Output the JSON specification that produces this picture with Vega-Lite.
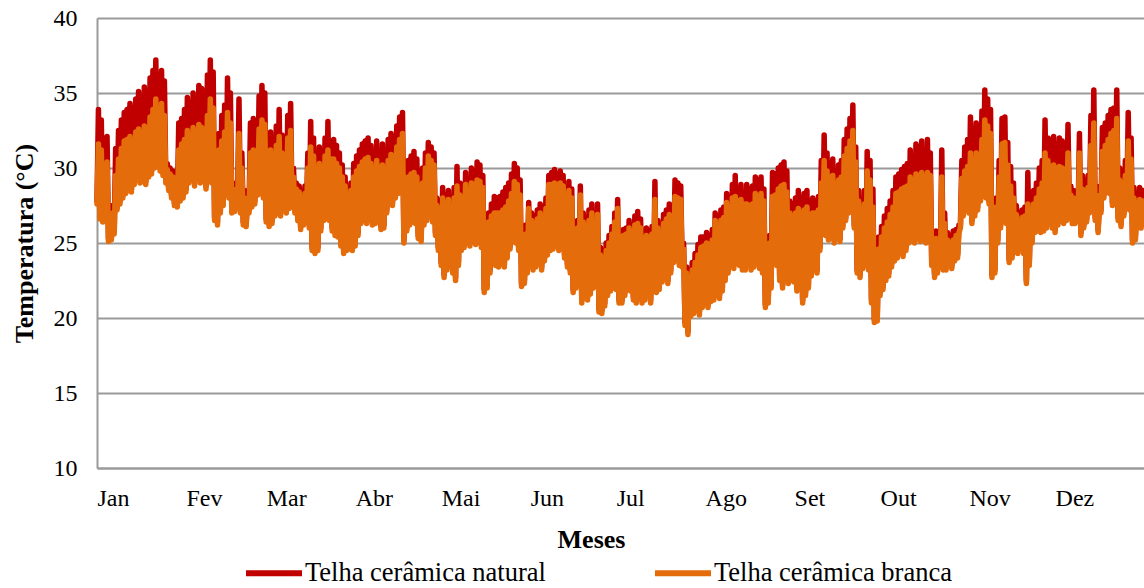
{
  "$schema": "https://vega.github.io/schema/vega-lite/v6.json",
  "autosize": "none",
  "width": 1047,
  "height": 450,
  "padding": {"left": 97, "top": 18, "right": 0, "bottom": 120},
  "background": "white",
  "config": {
    "view": {"stroke": null},
    "font": "Liberation Serif",
    "axis": {"labelFont": "Liberation Serif", "titleFont": "Liberation Serif", "labelColor": "black", "titleColor": "black"}
  },
  "data": {"values": [
{"t":0,"n":27.8,"b":27.6},{"t":0.5,"n":33.9,"b":31.6},
{"t":1,"n":26.8,"b":26.6},{"t":1.5,"n":33.2,"b":31.2},
{"t":2,"n":26.6,"b":26.4},{"t":2.5,"n":28.2,"b":27.6},
{"t":3,"n":26.7,"b":26.5},{"t":3.5,"n":32.1,"b":30.4},
{"t":4,"n":25.3,"b":25.1},{"t":4.5,"n":27.0,"b":26.6},
{"t":5,"n":25.4,"b":25.2},{"t":5.5,"n":27.5,"b":27.0},
{"t":6,"n":25.8,"b":25.6},{"t":6.5,"n":31.3,"b":29.5},
{"t":7,"n":27.4,"b":27.2},{"t":7.5,"n":32.5,"b":30.6},
{"t":8,"n":27.8,"b":27.6},{"t":8.5,"n":33.2,"b":31.3},
{"t":9,"n":28.2,"b":28.0},{"t":9.5,"n":33.7,"b":31.8},
{"t":10,"n":28.5,"b":28.3},{"t":10.5,"n":33.9,"b":31.9},
{"t":11,"n":28.7,"b":28.5},{"t":11.5,"n":34.3,"b":32.1},
{"t":12,"n":28.6,"b":28.4},{"t":12.5,"n":34.0,"b":31.8},
{"t":13,"n":29.1,"b":28.9},{"t":13.5,"n":34.6,"b":32.4},
{"t":14,"n":29.4,"b":29.2},{"t":14.5,"n":35.1,"b":32.6},
{"t":15,"n":29.2,"b":29.0},{"t":15.5,"n":34.8,"b":32.4},
{"t":16,"n":29.3,"b":29.1},{"t":16.5,"n":35.4,"b":32.8},
{"t":17,"n":29.1,"b":28.9},{"t":17.5,"n":35.0,"b":32.6},
{"t":18,"n":29.6,"b":29.4},{"t":18.5,"n":36.0,"b":33.4},
{"t":19,"n":29.8,"b":29.6},{"t":19.5,"n":36.5,"b":33.9},
{"t":20,"n":30.2,"b":30.0},{"t":20.5,"n":37.2,"b":34.6},
{"t":21,"n":30.3,"b":30.1},{"t":21.5,"n":36.0,"b":33.6},
{"t":22,"n":30.0,"b":29.8},{"t":22.5,"n":36.5,"b":34.3},
{"t":23,"n":29.7,"b":29.5},{"t":23.5,"n":35.8,"b":33.5},
{"t":24,"n":29.2,"b":29.0},{"t":24.5,"n":30.3,"b":29.9},
{"t":25,"n":28.7,"b":28.5},{"t":25.5,"n":30.0,"b":29.6},
{"t":26,"n":28.2,"b":28.0},{"t":26.5,"n":29.8,"b":29.4},
{"t":27,"n":27.7,"b":27.5},{"t":27.5,"n":29.5,"b":29.0},
{"t":28,"n":27.6,"b":27.4},{"t":28.5,"n":33.0,"b":31.2},
{"t":29,"n":28.0,"b":27.8},{"t":29.5,"n":33.3,"b":31.6},
{"t":30,"n":28.2,"b":28.0},{"t":30.5,"n":33.9,"b":31.9},
{"t":31,"n":28.6,"b":28.4},{"t":31.5,"n":34.7,"b":32.5},
{"t":32,"n":29.2,"b":29.0},{"t":32.5,"n":34.3,"b":32.0},
{"t":33,"n":29.4,"b":29.2},{"t":33.5,"n":35.0,"b":32.7},
{"t":34,"n":29.0,"b":28.8},{"t":34.5,"n":34.6,"b":32.4},
{"t":35,"n":29.5,"b":29.3},{"t":35.5,"n":35.5,"b":32.9},
{"t":36,"n":29.2,"b":29.0},{"t":36.5,"n":35.3,"b":32.7},
{"t":37,"n":29.4,"b":29.2},{"t":37.5,"n":34.8,"b":32.5},
{"t":38,"n":28.8,"b":28.6},{"t":38.5,"n":36.2,"b":33.5},
{"t":39,"n":29.7,"b":29.5},{"t":39.5,"n":37.2,"b":34.6},
{"t":40,"n":29.2,"b":29.0},{"t":40.5,"n":36.4,"b":34.0},
{"t":41,"n":26.7,"b":26.5},{"t":41.5,"n":29.5,"b":29.0},
{"t":42,"n":26.4,"b":26.2},{"t":42.5,"n":32.3,"b":31.2},
{"t":43,"n":27.2,"b":27.0},{"t":43.5,"n":33.5,"b":31.8},
{"t":44,"n":27.7,"b":27.5},{"t":44.5,"n":34.2,"b":32.4},
{"t":45,"n":28.5,"b":28.3},{"t":45.5,"n":36.0,"b":33.7},
{"t":46,"n":28.2,"b":28.0},{"t":46.5,"n":35.0,"b":33.0},
{"t":47,"n":27.2,"b":27.0},{"t":47.5,"n":28.5,"b":28.0},
{"t":48,"n":27.3,"b":27.1},{"t":48.5,"n":29.0,"b":28.6},
{"t":49,"n":27.7,"b":27.5},{"t":49.5,"n":34.6,"b":32.3},
{"t":50,"n":27.2,"b":27.0},{"t":50.5,"n":31.0,"b":30.0},
{"t":51,"n":26.4,"b":26.2},{"t":51.5,"n":28.5,"b":28.0},
{"t":52,"n":26.3,"b":26.1},{"t":52.5,"n":28.3,"b":27.9},
{"t":53,"n":27.2,"b":27.0},{"t":53.5,"n":33.0,"b":31.0},
{"t":54,"n":27.6,"b":27.4},{"t":54.5,"n":33.3,"b":31.2},
{"t":55,"n":27.8,"b":27.6},{"t":55.5,"n":32.8,"b":31.0},
{"t":56,"n":28.4,"b":28.2},{"t":56.5,"n":34.8,"b":32.6},
{"t":57,"n":28.5,"b":28.3},{"t":57.5,"n":35.5,"b":33.2},
{"t":58,"n":28.2,"b":28.0},{"t":58.5,"n":35.0,"b":32.9},
{"t":59,"n":26.6,"b":26.4},{"t":59.5,"n":30.5,"b":29.8},
{"t":60,"n":26.3,"b":26.1},{"t":60.5,"n":32.4,"b":31.2},
{"t":61,"n":26.5,"b":26.3},{"t":61.5,"n":31.5,"b":30.5},
{"t":62,"n":27.0,"b":26.8},{"t":62.5,"n":32.8,"b":31.5},
{"t":63,"n":27.2,"b":27.0},{"t":63.5,"n":33.9,"b":32.1},
{"t":64,"n":27.0,"b":26.8},{"t":64.5,"n":32.2,"b":31.0},
{"t":65,"n":27.4,"b":27.2},{"t":65.5,"n":30.5,"b":29.8},
{"t":66,"n":27.2,"b":27.0},{"t":66.5,"n":33.5,"b":32.0},
{"t":67,"n":27.5,"b":27.3},{"t":67.5,"n":34.3,"b":32.5},
{"t":68,"n":27.6,"b":27.4},{"t":68.5,"n":30.0,"b":29.4},
{"t":69,"n":27.2,"b":27.0},{"t":69.5,"n":29.0,"b":28.6},
{"t":70,"n":26.7,"b":26.5},{"t":70.5,"n":28.8,"b":28.4},
{"t":71,"n":26.1,"b":25.9},{"t":71.5,"n":28.5,"b":28.0},
{"t":72,"n":26.4,"b":26.2},{"t":72.5,"n":28.8,"b":28.3},
{"t":73,"n":27.0,"b":26.8},{"t":73.5,"n":31.0,"b":30.0},
{"t":74,"n":26.2,"b":26.0},{"t":74.5,"n":33.1,"b":31.4},
{"t":75,"n":24.7,"b":24.5},{"t":75.5,"n":32.0,"b":30.8},
{"t":76,"n":24.5,"b":24.3},{"t":76.5,"n":29.0,"b":28.4},
{"t":77,"n":24.7,"b":24.5},{"t":77.5,"n":31.4,"b":30.3},
{"t":78,"n":26.0,"b":25.8},{"t":78.5,"n":30.5,"b":29.8},
{"t":79,"n":26.7,"b":26.5},{"t":79.5,"n":32.0,"b":30.8},
{"t":80,"n":26.8,"b":26.6},{"t":80.5,"n":33.1,"b":31.2},
{"t":81,"n":26.7,"b":26.5},{"t":81.5,"n":31.8,"b":30.6},
{"t":82,"n":26.0,"b":25.8},{"t":82.5,"n":31.9,"b":30.6},
{"t":83,"n":25.7,"b":25.5},{"t":83.5,"n":31.5,"b":30.3},
{"t":84,"n":25.6,"b":25.4},{"t":84.5,"n":31.0,"b":30.0},
{"t":85,"n":25.0,"b":24.8},{"t":85.5,"n":30.2,"b":29.4},
{"t":86,"n":24.5,"b":24.3},{"t":86.5,"n":29.4,"b":28.8},
{"t":87,"n":24.7,"b":24.5},{"t":87.5,"n":28.5,"b":28.0},
{"t":88,"n":24.8,"b":24.6},{"t":88.5,"n":29.0,"b":28.5},
{"t":89,"n":24.7,"b":24.5},{"t":89.5,"n":30.3,"b":29.4},
{"t":90,"n":25.0,"b":24.8},{"t":90.5,"n":30.8,"b":29.8},
{"t":91,"n":25.7,"b":25.5},{"t":91.5,"n":31.2,"b":30.1},
{"t":92,"n":26.5,"b":26.3},{"t":92.5,"n":31.6,"b":30.4},
{"t":93,"n":26.7,"b":26.5},{"t":93.5,"n":31.8,"b":30.6},
{"t":94,"n":26.5,"b":26.3},{"t":94.5,"n":32.0,"b":30.7},
{"t":95,"n":26.8,"b":26.6},{"t":95.5,"n":31.5,"b":30.3},
{"t":96,"n":26.4,"b":26.2},{"t":96.5,"n":30.8,"b":29.8},
{"t":97,"n":26.5,"b":26.3},{"t":97.5,"n":31.8,"b":30.5},
{"t":98,"n":26.7,"b":26.5},{"t":98.5,"n":31.0,"b":30.0},
{"t":99,"n":26.1,"b":25.9},{"t":99.5,"n":31.6,"b":30.2},
{"t":100,"n":26.2,"b":26.0},{"t":100.5,"n":30.5,"b":29.6},
{"t":101,"n":27.2,"b":27.0},{"t":101.5,"n":31.9,"b":30.5},
{"t":102,"n":27.8,"b":27.6},{"t":102.5,"n":32.3,"b":30.9},
{"t":103,"n":27.7,"b":27.5},{"t":103.5,"n":32.0,"b":30.8},
{"t":104,"n":28.2,"b":28.0},{"t":104.5,"n":32.8,"b":31.4},
{"t":105,"n":28.5,"b":28.3},{"t":105.5,"n":33.4,"b":31.9},
{"t":106,"n":28.7,"b":28.5},{"t":106.5,"n":33.7,"b":32.3},
{"t":107,"n":25.2,"b":25.0},{"t":107.5,"n":28.5,"b":28.0},
{"t":108,"n":26.0,"b":25.8},{"t":108.5,"n":30.5,"b":29.4},
{"t":109,"n":26.4,"b":26.2},{"t":109.5,"n":30.8,"b":29.6},
{"t":110,"n":26.6,"b":26.4},{"t":110.5,"n":31.1,"b":29.7},
{"t":111,"n":26.5,"b":26.3},{"t":111.5,"n":30.6,"b":29.4},
{"t":112,"n":25.5,"b":25.3},{"t":112.5,"n":29.5,"b":28.8},
{"t":113,"n":25.3,"b":25.1},{"t":113.5,"n":30.0,"b":29.0},
{"t":114,"n":26.4,"b":26.2},{"t":114.5,"n":31.0,"b":30.0},
{"t":115,"n":26.7,"b":26.5},{"t":115.5,"n":31.7,"b":30.8},
{"t":116,"n":27.0,"b":26.8},{"t":116.5,"n":31.4,"b":30.5},
{"t":117,"n":26.6,"b":26.4},{"t":117.5,"n":31.0,"b":30.2},
{"t":118,"n":25.7,"b":25.5},{"t":118.5,"n":28.0,"b":27.5},
{"t":119,"n":24.7,"b":24.5},{"t":119.5,"n":26.8,"b":26.3},
{"t":120,"n":23.7,"b":23.5},{"t":120.5,"n":28.7,"b":28.0},
{"t":121,"n":22.9,"b":22.7},{"t":121.5,"n":28.2,"b":27.6},
{"t":122,"n":23.4,"b":23.2},{"t":122.5,"n":28.5,"b":27.9},
{"t":123,"n":24.0,"b":23.8},{"t":123.5,"n":27.8,"b":27.2},
{"t":124,"n":23.2,"b":23.0},{"t":124.5,"n":28.7,"b":28.0},
{"t":125,"n":22.7,"b":22.5},{"t":125.5,"n":30.1,"b":28.8},
{"t":126,"n":23.7,"b":23.5},{"t":126.5,"n":29.0,"b":28.2},
{"t":127,"n":24.7,"b":24.5},{"t":127.5,"n":28.9,"b":28.0},
{"t":128,"n":24.9,"b":24.7},{"t":128.5,"n":29.7,"b":28.9},
{"t":129,"n":25.2,"b":25.0},{"t":129.5,"n":29.2,"b":28.5},
{"t":130,"n":25.0,"b":24.8},{"t":130.5,"n":30.0,"b":29.0},
{"t":131,"n":25.4,"b":25.2},{"t":131.5,"n":29.8,"b":28.9},
{"t":132,"n":25.1,"b":24.9},{"t":132.5,"n":30.4,"b":29.2},
{"t":133,"n":25.5,"b":25.3},{"t":133.5,"n":30.2,"b":29.1},
{"t":134,"n":24.9,"b":24.7},{"t":134.5,"n":29.5,"b":28.7},
{"t":135,"n":21.9,"b":21.7},{"t":135.5,"n":26.8,"b":26.1},
{"t":136,"n":22.2,"b":22.0},{"t":136.5,"n":27.0,"b":26.4},
{"t":137,"n":23.2,"b":23.0},{"t":137.5,"n":27.6,"b":26.8},
{"t":138,"n":23.9,"b":23.7},{"t":138.5,"n":28.1,"b":27.0},
{"t":139,"n":23.7,"b":23.5},{"t":139.5,"n":28.0,"b":27.0},
{"t":140,"n":23.6,"b":23.4},{"t":140.5,"n":28.1,"b":27.0},
{"t":141,"n":23.8,"b":23.6},{"t":141.5,"n":28.4,"b":27.2},
{"t":142,"n":23.6,"b":23.4},{"t":142.5,"n":28.7,"b":27.4},
{"t":143,"n":24.2,"b":24.0},{"t":143.5,"n":29.0,"b":27.8},
{"t":144,"n":24.8,"b":24.6},{"t":144.5,"n":29.6,"b":28.3},
{"t":145,"n":25.4,"b":25.2},{"t":145.5,"n":30.3,"b":29.1},
{"t":146,"n":25.2,"b":25.0},{"t":146.5,"n":30.0,"b":28.9},
{"t":147,"n":24.7,"b":24.5},{"t":147.5,"n":29.2,"b":28.2},
{"t":148,"n":22.3,"b":22.1},{"t":148.5,"n":25.7,"b":25.2},
{"t":149,"n":22.5,"b":22.3},{"t":149.5,"n":26.2,"b":25.6},
{"t":150,"n":23.2,"b":23.0},{"t":150.5,"n":27.7,"b":27.3},
{"t":151,"n":23.7,"b":23.5},{"t":151.5,"n":27.0,"b":26.5},
{"t":152,"n":23.4,"b":23.2},{"t":152.5,"n":26.8,"b":26.3},
{"t":153,"n":23.6,"b":23.4},{"t":153.5,"n":27.2,"b":26.6},
{"t":154,"n":23.8,"b":23.6},{"t":154.5,"n":27.6,"b":27.0},
{"t":155,"n":23.4,"b":23.2},{"t":155.5,"n":27.0,"b":26.5},
{"t":156,"n":24.0,"b":23.8},{"t":156.5,"n":28.0,"b":27.3},
{"t":157,"n":24.4,"b":24.2},{"t":157.5,"n":29.5,"b":28.9},
{"t":158,"n":24.7,"b":24.5},{"t":158.5,"n":29.7,"b":28.9},
{"t":159,"n":24.8,"b":24.6},{"t":159.5,"n":29.9,"b":29.0},
{"t":160,"n":25.0,"b":24.8},{"t":160.5,"n":29.6,"b":28.9},
{"t":161,"n":24.7,"b":24.5},{"t":161.5,"n":29.8,"b":29.0},
{"t":162,"n":24.8,"b":24.6},{"t":162.5,"n":29.5,"b":28.8},
{"t":163,"n":24.2,"b":24.0},{"t":163.5,"n":28.5,"b":28.0},
{"t":164,"n":23.6,"b":23.4},{"t":164.5,"n":29.1,"b":28.5},
{"t":165,"n":23.2,"b":23.0},{"t":165.5,"n":28.6,"b":28.0},
{"t":166,"n":21.9,"b":21.7},{"t":166.5,"n":26.0,"b":25.5},
{"t":167,"n":22.2,"b":22.0},{"t":167.5,"n":26.5,"b":26.0},
{"t":168,"n":22.7,"b":22.5},{"t":168.5,"n":28.8,"b":28.2},
{"t":169,"n":21.2,"b":21.0},{"t":169.5,"n":27.0,"b":26.4},
{"t":170,"n":21.7,"b":21.5},{"t":170.5,"n":26.7,"b":26.1},
{"t":171,"n":21.4,"b":21.2},{"t":171.5,"n":27.2,"b":26.5},
{"t":172,"n":21.8,"b":21.6},{"t":172.5,"n":27.6,"b":27.0},
{"t":173,"n":22.2,"b":22.0},{"t":173.5,"n":27.0,"b":26.4},
{"t":174,"n":22.7,"b":22.5},{"t":174.5,"n":27.6,"b":26.9},
{"t":175,"n":20.6,"b":20.4},{"t":175.5,"n":24.7,"b":24.2},
{"t":176,"n":20.5,"b":20.3},{"t":176.5,"n":24.5,"b":24.0},
{"t":177,"n":21.0,"b":20.8},{"t":177.5,"n":25.0,"b":24.5},
{"t":178,"n":21.7,"b":21.5},{"t":178.5,"n":25.5,"b":25.0},
{"t":179,"n":22.0,"b":21.8},{"t":179.5,"n":26.1,"b":25.6},
{"t":180,"n":22.2,"b":22.0},{"t":180.5,"n":27.0,"b":26.4},
{"t":181,"n":22.1,"b":21.9},{"t":181.5,"n":27.9,"b":27.3},
{"t":182,"n":21.2,"b":21.0},{"t":182.5,"n":25.5,"b":25.0},
{"t":183,"n":21.2,"b":21.0},{"t":183.5,"n":25.9,"b":25.5},
{"t":184,"n":21.7,"b":21.5},{"t":184.5,"n":26.0,"b":25.6},
{"t":185,"n":22.5,"b":22.3},{"t":185.5,"n":26.5,"b":26.0},
{"t":186,"n":22.0,"b":21.8},{"t":186.5,"n":26.2,"b":25.7},
{"t":187,"n":21.4,"b":21.2},{"t":187.5,"n":26.8,"b":26.2},
{"t":188,"n":21.2,"b":21.0},{"t":188.5,"n":27.1,"b":26.3},
{"t":189,"n":21.8,"b":21.6},{"t":189.5,"n":26.6,"b":26.0},
{"t":190,"n":21.2,"b":21.0},{"t":190.5,"n":25.7,"b":25.3},
{"t":191,"n":21.4,"b":21.2},{"t":191.5,"n":26.0,"b":25.5},
{"t":192,"n":21.7,"b":21.5},{"t":192.5,"n":25.8,"b":25.4},
{"t":193,"n":21.2,"b":21.0},{"t":193.5,"n":26.1,"b":25.6},
{"t":194,"n":22.0,"b":21.8},{"t":194.5,"n":29.1,"b":27.9},
{"t":195,"n":21.9,"b":21.7},{"t":195.5,"n":26.5,"b":26.0},
{"t":196,"n":22.1,"b":21.9},{"t":196.5,"n":26.0,"b":25.5},
{"t":197,"n":22.6,"b":22.4},{"t":197.5,"n":26.9,"b":26.3},
{"t":198,"n":22.8,"b":22.6},{"t":198.5,"n":27.2,"b":26.6},
{"t":199,"n":22.5,"b":22.3},{"t":199.5,"n":27.6,"b":26.9},
{"t":200,"n":23.2,"b":23.0},{"t":200.5,"n":27.4,"b":26.8},
{"t":201,"n":23.9,"b":23.7},{"t":201.5,"n":29.2,"b":28.1},
{"t":202,"n":24.1,"b":23.9},{"t":202.5,"n":29.0,"b":28.0},
{"t":203,"n":23.7,"b":23.5},{"t":203.5,"n":28.8,"b":27.9},
{"t":204,"n":23.6,"b":23.4},{"t":204.5,"n":25.0,"b":24.6},
{"t":205,"n":19.7,"b":19.5},{"t":205.5,"n":23.4,"b":23.0},
{"t":206,"n":19.1,"b":18.9},{"t":206.5,"n":22.5,"b":22.0},
{"t":207,"n":20.3,"b":20.1},{"t":207.5,"n":23.7,"b":23.2},
{"t":208,"n":20.5,"b":20.3},{"t":208.5,"n":24.3,"b":23.7},
{"t":209,"n":20.7,"b":20.5},{"t":209.5,"n":24.9,"b":24.2},
{"t":210,"n":20.4,"b":20.2},{"t":210.5,"n":25.4,"b":24.7},
{"t":211,"n":20.9,"b":20.7},{"t":211.5,"n":25.4,"b":24.8},
{"t":212,"n":21.1,"b":20.9},{"t":212.5,"n":25.7,"b":25.0},
{"t":213,"n":20.9,"b":20.7},{"t":213.5,"n":25.5,"b":24.9},
{"t":214,"n":21.3,"b":21.1},{"t":214.5,"n":25.9,"b":25.2},
{"t":215,"n":21.4,"b":21.2},{"t":215.5,"n":27.0,"b":26.5},
{"t":216,"n":21.7,"b":21.5},{"t":216.5,"n":26.8,"b":26.2},
{"t":217,"n":21.5,"b":21.3},{"t":217.5,"n":27.2,"b":26.5},
{"t":218,"n":22.0,"b":21.8},{"t":218.5,"n":27.4,"b":26.7},
{"t":219,"n":22.7,"b":22.5},{"t":219.5,"n":28.3,"b":27.7},
{"t":220,"n":23.2,"b":23.0},{"t":220.5,"n":28.0,"b":27.4},
{"t":221,"n":23.7,"b":23.5},{"t":221.5,"n":28.9,"b":28.0},
{"t":222,"n":23.5,"b":23.3},{"t":222.5,"n":29.5,"b":28.1},
{"t":223,"n":23.9,"b":23.7},{"t":223.5,"n":28.6,"b":27.8},
{"t":224,"n":23.7,"b":23.5},{"t":224.5,"n":28.9,"b":27.9},
{"t":225,"n":23.4,"b":23.2},{"t":225.5,"n":28.3,"b":27.6},
{"t":226,"n":23.4,"b":23.2},{"t":226.5,"n":28.9,"b":27.6},
{"t":227,"n":23.7,"b":23.5},{"t":227.5,"n":28.6,"b":27.5},
{"t":228,"n":23.4,"b":23.2},{"t":228.5,"n":28.8,"b":27.6},
{"t":229,"n":23.6,"b":23.4},{"t":229.5,"n":29.4,"b":28.3},
{"t":230,"n":23.8,"b":23.6},{"t":230.5,"n":29.2,"b":28.1},
{"t":231,"n":23.5,"b":23.3},{"t":231.5,"n":29.4,"b":28.3},
{"t":232,"n":23.2,"b":23.0},{"t":232.5,"n":28.6,"b":27.8},
{"t":233,"n":20.9,"b":20.7},{"t":233.5,"n":24.5,"b":24.0},
{"t":234,"n":21.2,"b":21.0},{"t":234.5,"n":25.5,"b":25.0},
{"t":235,"n":22.2,"b":22.0},{"t":235.5,"n":29.7,"b":28.1},
{"t":236,"n":24.3,"b":24.1},{"t":236.5,"n":29.6,"b":28.2},
{"t":237,"n":23.7,"b":23.5},{"t":237.5,"n":30.0,"b":28.6},
{"t":238,"n":22.7,"b":22.5},{"t":238.5,"n":30.2,"b":28.8},
{"t":239,"n":22.2,"b":22.0},{"t":239.5,"n":30.4,"b":28.9},
{"t":240,"n":23.2,"b":23.0},{"t":240.5,"n":29.8,"b":28.4},
{"t":241,"n":22.5,"b":22.3},{"t":241.5,"n":27.8,"b":27.0},
{"t":242,"n":22.7,"b":22.5},{"t":242.5,"n":27.6,"b":26.8},
{"t":243,"n":22.6,"b":22.4},{"t":243.5,"n":28.0,"b":27.0},
{"t":244,"n":22.0,"b":21.8},{"t":244.5,"n":28.5,"b":27.3},
{"t":245,"n":22.8,"b":22.6},{"t":245.5,"n":28.0,"b":27.0},
{"t":246,"n":21.2,"b":21.0},{"t":246.5,"n":28.3,"b":27.2},
{"t":247,"n":21.7,"b":21.5},{"t":247.5,"n":28.5,"b":27.4},
{"t":248,"n":22.2,"b":22.0},{"t":248.5,"n":27.8,"b":26.9},
{"t":249,"n":23.0,"b":22.8},{"t":249.5,"n":28.0,"b":27.0},
{"t":250,"n":23.4,"b":23.2},{"t":250.5,"n":27.8,"b":27.0},
{"t":251,"n":23.2,"b":23.0},{"t":251.5,"n":28.1,"b":27.2},
{"t":252,"n":24.7,"b":24.5},{"t":252.5,"n":30.5,"b":29.0},
{"t":253,"n":26.1,"b":25.9},{"t":253.5,"n":32.2,"b":30.5},
{"t":254,"n":25.7,"b":25.5},{"t":254.5,"n":31.0,"b":29.8},
{"t":255,"n":25.4,"b":25.2},{"t":255.5,"n":30.3,"b":29.4},
{"t":256,"n":25.6,"b":25.4},{"t":256.5,"n":30.6,"b":29.5},
{"t":257,"n":25.2,"b":25.0},{"t":257.5,"n":29.7,"b":28.9},
{"t":258,"n":25.5,"b":25.3},{"t":258.5,"n":30.2,"b":29.2},
{"t":259,"n":25.3,"b":25.1},{"t":259.5,"n":30.5,"b":29.4},
{"t":260,"n":26.2,"b":26.0},{"t":260.5,"n":31.9,"b":30.8},
{"t":261,"n":26.7,"b":26.5},{"t":261.5,"n":32.6,"b":31.3},
{"t":262,"n":27.2,"b":27.0},{"t":262.5,"n":33.3,"b":31.8},
{"t":263,"n":27.4,"b":27.2},{"t":263.5,"n":34.2,"b":32.5},
{"t":264,"n":26.2,"b":26.0},{"t":264.5,"n":31.4,"b":30.4},
{"t":265,"n":23.2,"b":23.0},{"t":265.5,"n":28.5,"b":27.8},
{"t":266,"n":22.9,"b":22.7},{"t":266.5,"n":27.0,"b":26.5},
{"t":267,"n":23.5,"b":23.3},{"t":267.5,"n":28.5,"b":27.6},
{"t":268,"n":23.7,"b":23.5},{"t":268.5,"n":31.1,"b":29.8},
{"t":269,"n":23.4,"b":23.2},{"t":269.5,"n":30.5,"b":29.2},
{"t":270,"n":21.2,"b":21.0},{"t":270.5,"n":28.6,"b":27.4},
{"t":271,"n":19.9,"b":19.7},{"t":271.5,"n":24.5,"b":24.0},
{"t":272,"n":20.0,"b":19.8},{"t":272.5,"n":25.4,"b":24.6},
{"t":273,"n":21.7,"b":21.5},{"t":273.5,"n":26.1,"b":25.4},
{"t":274,"n":22.1,"b":21.9},{"t":274.5,"n":26.8,"b":26.0},
{"t":275,"n":22.7,"b":22.5},{"t":275.5,"n":27.3,"b":26.4},
{"t":276,"n":23.0,"b":22.8},{"t":276.5,"n":27.8,"b":26.9},
{"t":277,"n":23.6,"b":23.4},{"t":277.5,"n":28.5,"b":27.4},
{"t":278,"n":24.0,"b":23.8},{"t":278.5,"n":29.4,"b":28.3},
{"t":279,"n":24.2,"b":24.0},{"t":279.5,"n":29.6,"b":28.4},
{"t":280,"n":24.5,"b":24.3},{"t":280.5,"n":29.9,"b":28.6},
{"t":281,"n":24.3,"b":24.1},{"t":281.5,"n":30.1,"b":28.7},
{"t":282,"n":24.7,"b":24.5},{"t":282.5,"n":30.3,"b":28.8},
{"t":283,"n":25.2,"b":25.0},{"t":283.5,"n":31.2,"b":29.4},
{"t":284,"n":25.4,"b":25.2},{"t":284.5,"n":30.8,"b":29.2},
{"t":285,"n":25.2,"b":25.0},{"t":285.5,"n":31.6,"b":29.6},
{"t":286,"n":25.5,"b":25.3},{"t":286.5,"n":31.4,"b":29.5},
{"t":287,"n":25.3,"b":25.1},{"t":287.5,"n":31.8,"b":29.7},
{"t":288,"n":25.4,"b":25.2},{"t":288.5,"n":31.2,"b":29.4},
{"t":289,"n":25.2,"b":25.0},{"t":289.5,"n":31.9,"b":29.7},
{"t":290,"n":25.4,"b":25.2},{"t":290.5,"n":31.0,"b":29.5},
{"t":291,"n":23.7,"b":23.5},{"t":291.5,"n":25.4,"b":25.0},
{"t":292,"n":22.9,"b":22.7},{"t":292.5,"n":25.8,"b":25.3},
{"t":293,"n":23.2,"b":23.0},{"t":293.5,"n":25.5,"b":25.0},
{"t":294,"n":23.7,"b":23.5},{"t":294.5,"n":31.2,"b":29.4},
{"t":295,"n":23.4,"b":23.2},{"t":295.5,"n":27.0,"b":26.3},
{"t":296,"n":23.4,"b":23.2},{"t":296.5,"n":25.7,"b":25.2},
{"t":297,"n":23.7,"b":23.5},{"t":297.5,"n":25.4,"b":25.0},
{"t":298,"n":23.5,"b":23.3},{"t":298.5,"n":25.8,"b":25.2},
{"t":299,"n":24.0,"b":23.8},{"t":299.5,"n":25.9,"b":25.5},
{"t":300,"n":24.2,"b":24.0},{"t":300.5,"n":26.2,"b":25.7},
{"t":301,"n":26.2,"b":26.0},{"t":301.5,"n":30.5,"b":29.3},
{"t":302,"n":27.0,"b":26.8},{"t":302.5,"n":31.4,"b":29.8},
{"t":303,"n":27.4,"b":27.2},{"t":303.5,"n":31.9,"b":30.1},
{"t":304,"n":27.2,"b":27.0},{"t":304.5,"n":33.4,"b":31.0},
{"t":305,"n":26.5,"b":26.3},{"t":305.5,"n":32.6,"b":30.5},
{"t":306,"n":27.0,"b":26.8},{"t":306.5,"n":33.0,"b":31.0},
{"t":307,"n":27.4,"b":27.2},{"t":307.5,"n":32.5,"b":30.7},
{"t":308,"n":28.0,"b":27.8},{"t":308.5,"n":33.8,"b":31.9},
{"t":309,"n":28.3,"b":28.1},{"t":309.5,"n":35.2,"b":33.2},
{"t":310,"n":28.2,"b":28.0},{"t":310.5,"n":34.6,"b":32.8},
{"t":311,"n":27.8,"b":27.6},{"t":311.5,"n":33.9,"b":32.3},
{"t":312,"n":22.9,"b":22.7},{"t":312.5,"n":26.5,"b":26.0},
{"t":313,"n":23.2,"b":23.0},{"t":313.5,"n":28.0,"b":27.4},
{"t":314,"n":25.2,"b":25.0},{"t":314.5,"n":30.5,"b":29.4},
{"t":315,"n":26.2,"b":26.0},{"t":315.5,"n":33.3,"b":31.6},
{"t":316,"n":26.7,"b":26.5},{"t":316.5,"n":33.4,"b":31.7},
{"t":317,"n":26.5,"b":26.3},{"t":317.5,"n":31.7,"b":30.2},
{"t":318,"n":23.9,"b":23.7},{"t":318.5,"n":30.1,"b":28.8},
{"t":319,"n":24.2,"b":24.0},{"t":319.5,"n":29.0,"b":28.0},
{"t":320,"n":24.6,"b":24.4},{"t":320.5,"n":27.5,"b":26.9},
{"t":321,"n":24.5,"b":24.3},{"t":321.5,"n":27.0,"b":26.4},
{"t":322,"n":24.8,"b":24.6},{"t":322.5,"n":27.2,"b":26.7},
{"t":323,"n":24.5,"b":24.3},{"t":323.5,"n":27.4,"b":26.8},
{"t":324,"n":22.5,"b":22.3},{"t":324.5,"n":29.7,"b":27.6},
{"t":325,"n":23.7,"b":23.5},{"t":325.5,"n":27.5,"b":26.8},
{"t":326,"n":25.2,"b":25.0},{"t":326.5,"n":28.5,"b":27.6},
{"t":327,"n":25.9,"b":25.7},{"t":327.5,"n":29.0,"b":28.0},
{"t":328,"n":26.0,"b":25.8},{"t":328.5,"n":30.0,"b":28.6},
{"t":329,"n":25.9,"b":25.7},{"t":329.5,"n":30.5,"b":29.0},
{"t":330,"n":26.0,"b":25.8},{"t":330.5,"n":33.2,"b":31.0},
{"t":331,"n":26.2,"b":26.0},{"t":331.5,"n":32.0,"b":30.5},
{"t":332,"n":26.7,"b":26.5},{"t":332.5,"n":31.9,"b":30.1},
{"t":333,"n":26.2,"b":26.0},{"t":333.5,"n":32.1,"b":30.2},
{"t":334,"n":25.9,"b":25.7},{"t":334.5,"n":31.6,"b":30.0},
{"t":335,"n":26.4,"b":26.2},{"t":335.5,"n":32.0,"b":30.1},
{"t":336,"n":26.7,"b":26.5},{"t":336.5,"n":31.8,"b":30.0},
{"t":337,"n":26.5,"b":26.3},{"t":337.5,"n":28.6,"b":28.0},
{"t":338,"n":26.7,"b":26.5},{"t":338.5,"n":32.9,"b":31.0},
{"t":339,"n":27.0,"b":26.8},{"t":339.5,"n":28.8,"b":28.2},
{"t":340,"n":26.5,"b":26.3},{"t":340.5,"n":28.5,"b":28.0},
{"t":341,"n":26.5,"b":26.3},{"t":341.5,"n":28.0,"b":27.6},
{"t":342,"n":26.7,"b":26.5},{"t":342.5,"n":32.3,"b":31.0},
{"t":343,"n":25.7,"b":25.5},{"t":343.5,"n":29.5,"b":28.6},
{"t":344,"n":26.2,"b":26.0},{"t":344.5,"n":29.2,"b":28.5},
{"t":345,"n":26.6,"b":26.4},{"t":345.5,"n":29.5,"b":28.7},
{"t":346,"n":27.2,"b":27.0},{"t":346.5,"n":33.5,"b":31.5},
{"t":347,"n":27.4,"b":27.2},{"t":347.5,"n":35.2,"b":33.0},
{"t":348,"n":26.7,"b":26.5},{"t":348.5,"n":28.8,"b":28.2},
{"t":349,"n":25.9,"b":25.7},{"t":349.5,"n":28.0,"b":27.6},
{"t":350,"n":27.2,"b":27.0},{"t":350.5,"n":32.7,"b":31.1},
{"t":351,"n":28.2,"b":28.0},{"t":351.5,"n":33.0,"b":31.5},
{"t":352,"n":28.9,"b":28.7},{"t":352.5,"n":33.5,"b":31.9},
{"t":353,"n":28.5,"b":28.3},{"t":353.5,"n":33.9,"b":32.3},
{"t":354,"n":27.7,"b":27.5},{"t":354.5,"n":34.0,"b":32.5},
{"t":355,"n":28.2,"b":28.0},{"t":355.5,"n":35.2,"b":33.3},
{"t":356,"n":26.7,"b":26.5},{"t":356.5,"n":30.0,"b":29.2},
{"t":357,"n":26.3,"b":26.1},{"t":357.5,"n":28.5,"b":28.0},
{"t":358,"n":27.0,"b":26.8},{"t":358.5,"n":30.5,"b":29.5},
{"t":359,"n":27.7,"b":27.5},{"t":359.5,"n":33.7,"b":31.8},
{"t":360,"n":27.4,"b":27.2},{"t":360.5,"n":32.0,"b":30.6},
{"t":361,"n":25.2,"b":25.0},{"t":361.5,"n":28.7,"b":28.0},
{"t":362,"n":25.4,"b":25.2},{"t":362.5,"n":28.0,"b":27.5},
{"t":363,"n":26.3,"b":26.1},{"t":363.5,"n":28.7,"b":27.9},
{"t":364,"n":26.2,"b":26.0},{"t":364.5,"n":28.5,"b":27.8},
{"t":365,"n":26.5,"b":26.3}
  ]},
  "encoding": {
    "x": {
      "field": "t",
      "type": "quantitative",
      "scale": {"domain": [0, 365], "nice": false, "zero": false},
      "axis": {
        "title": "Meses",
        "titleFontSize": 26,
        "titleFontWeight": "bold",
        "titleX": 494,
        "titleY": 79,
        "titleAlign": "center",
        "titleBaseline": "alphabetic",
        "values": [0, 31, 59, 90, 120, 151, 181, 212, 243, 273, 304, 334],
        "labelExpr": "['Jan','Fev','Mar','Abr','Mai','Jun','Jul','Ago','Set','Out','Nov','Dez'][indexof([0,31,59,90,120,151,181,212,243,273,304,334], datum.value)]",
        "labelAlign": "left",
        "labelBaseline": "top",
        "labelFontSize": 24,
        "labelPadding": 18,
        "labelFlush": false,
        "labelOverlap": false,
        "ticks": false,
        "grid": false,
        "domain": true,
        "domainColor": "#9a9a9a",
        "domainWidth": 2
      }
    }
  },
  "layer": [
    {
      "mark": {"type": "line", "strokeWidth": 5.5, "strokeJoin": "round", "strokeCap": "round"},
      "encoding": {
        "y": {
          "field": "n",
          "type": "quantitative",
          "scale": {"domain": [10, 40], "nice": false, "zero": false},
          "axis": {
            "title": "Temperatura (°C)",
            "titleFontSize": 26,
            "titleFontWeight": "bold",
            "titleAngle": 270,
            "titleX": -65,
            "titleY": 225,
            "titleAlign": "center",
            "titleBaseline": "alphabetic",
            "values": [10, 15, 20, 25, 30, 35, 40],
            "labelFontSize": 24,
            "labelPadding": 20,
            "ticks": false,
            "grid": true,
            "gridColor": "#9a9a9a",
            "gridWidth": 2,
            "domainColor": "#9a9a9a",
            "domainWidth": 2
          }
        },
        "color": {
          "datum": "Telha cerâmica natural",
          "scale": {"domain": ["Telha cerâmica natural", "Telha cerâmica branca"], "range": ["#C00000", "#E46C0A"]},
          "legend": {
            "title": null,
            "orient": "none",
            "direction": "horizontal",
            "legendX": 146,
            "legendY": 524,
            "symbolType": "stroke",
            "symbolSize": 3136,
            "symbolStrokeWidth": 6,
            "labelFont": "Liberation Serif",
            "labelFontSize": 26.5,
            "labelColor": "black",
            "labelOffset": 0,
            "labelLimit": 400,
            "columnPadding": 97,
            "padding": 0
          }
        }
      }
    },
    {
      "mark": {"type": "line", "strokeWidth": 5.5, "strokeJoin": "round", "strokeCap": "round"},
      "encoding": {
        "y": {"field": "b", "type": "quantitative"},
        "color": {"datum": "Telha cerâmica branca"}
      }
    }
  ]
}
